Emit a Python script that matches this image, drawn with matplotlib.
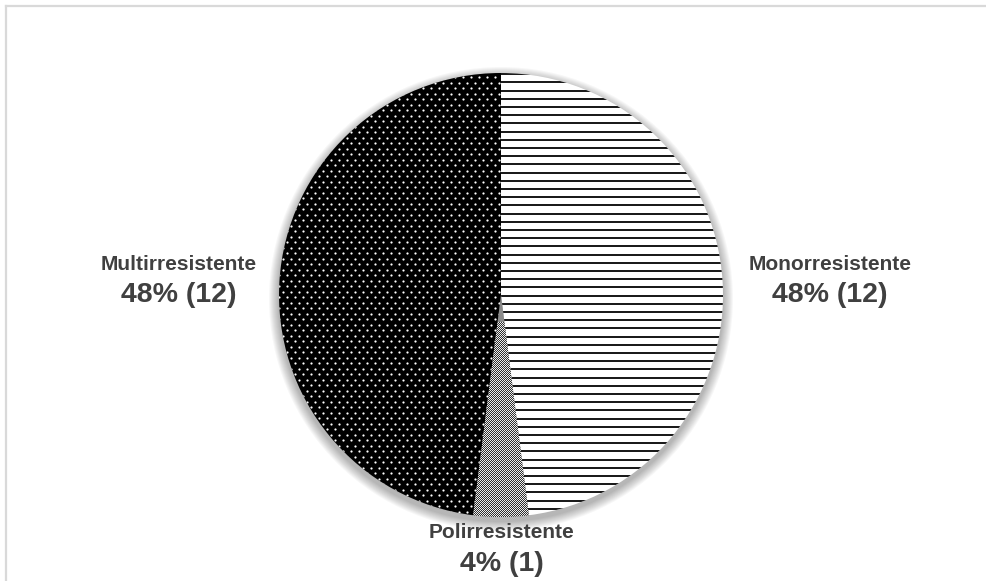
import numpy as np
import matplotlib
matplotlib.use("Agg")
import matplotlib.pyplot as plt
from matplotlib.patches import Circle

# Resistance profile of the isolates
categories = ["Monorresistente", "Polirresistente", "Multirresistente"]
counts = [12, 1, 12]

W, H = 986, 581
fig = plt.figure(figsize=(W / 100, H / 100), dpi=100)
ax = fig.add_axes([0, 0, 1, 1])
ax.set_xlim(0, W)
ax.set_ylim(0, H)
ax.set_aspect("equal")
ax.axis("off")

cx, cy, r = 501, 286, 222

# soft drop shadow under the pie
for i in range(10):
    ax.add_patch(Circle((cx, cy - 4), r + 10 - i, color="black",
                        alpha=0.03, lw=0, zorder=0))

wedges, _ = ax.pie(counts, startangle=90, counterclock=False,
                   center=(cx, cy), radius=r, frame=True,
                   colors=["white", "#8a8a8a", "black"],
                   wedgeprops=dict(linewidth=0, edgecolor="none"))
ax.set_xlim(0, W)
ax.set_ylim(0, H)
ax.axis("off")

mono, poli, multi = wedges
for w in wedges:
    w.set_zorder(2)

# horizontal stripes for Monorresistente
for y in np.arange(cy - r, cy + r, 8.2):
    ln, = ax.plot([cx - r, cx + r], [y, y], color="#151515", lw=1.4,
                  solid_capstyle="butt", zorder=3)
    ln.set_clip_path(mono)

# white dots for Multirresistente
xs, ys = [], []
for j, y in enumerate(np.arange(cy - r, cy + r, 5.5)):
    off = 4.0 if j % 2 else 0.0
    for x in np.arange(cx - r + off, cx + r, 8.0):
        xs.append(x)
        ys.append(y)
dots, = ax.plot(xs, ys, "o", color="white", ms=1.6, mew=0, zorder=3)
dots.set_clip_path(multi)

# fine checker texture for Polirresistente
n = 200
chk = (np.add.outer(np.arange(n), np.arange(n)) % 2).astype(float)
im = ax.imshow(chk, cmap="gray", vmin=-0.25, vmax=1.1, interpolation="nearest",
               extent=(cx - 100, cx + 100, cy - r - 5, cy - r - 5 + 200),
               zorder=3)
im.set_clip_path(poli)
ax.set_xlim(0, W)
ax.set_ylim(0, H)

# labels
total = sum(counts)
tc = "#404040"
fam = ["Liberation Sans", "DejaVu Sans"]
label_pos = [((830, 316), (830, 286)),
             ((502, 48), (502, 17)),
             ((178.5, 316), (179, 286))]
for name, c, (p1, p2) in zip(categories, counts, label_pos):
    ax.text(*p1, name, ha="center", va="center", fontsize=15, color=tc,
            fontweight="bold", family=fam, zorder=5)
    ax.text(*p2, f"{round(100 * c / total)}% ({c})", ha="center", va="center",
            fontsize=20.5, color=tc, fontweight="bold", family=fam, zorder=5)

# chart-area frame
ax.plot([5.5, 5.5], [0, H - 5.5], color="#d9d9d9", lw=1.6, clip_on=False, zorder=1)
ax.plot([5.5, W], [H - 5.5, H - 5.5], color="#d9d9d9", lw=1.6, clip_on=False, zorder=1)

fig.savefig("out.png", dpi=100)
